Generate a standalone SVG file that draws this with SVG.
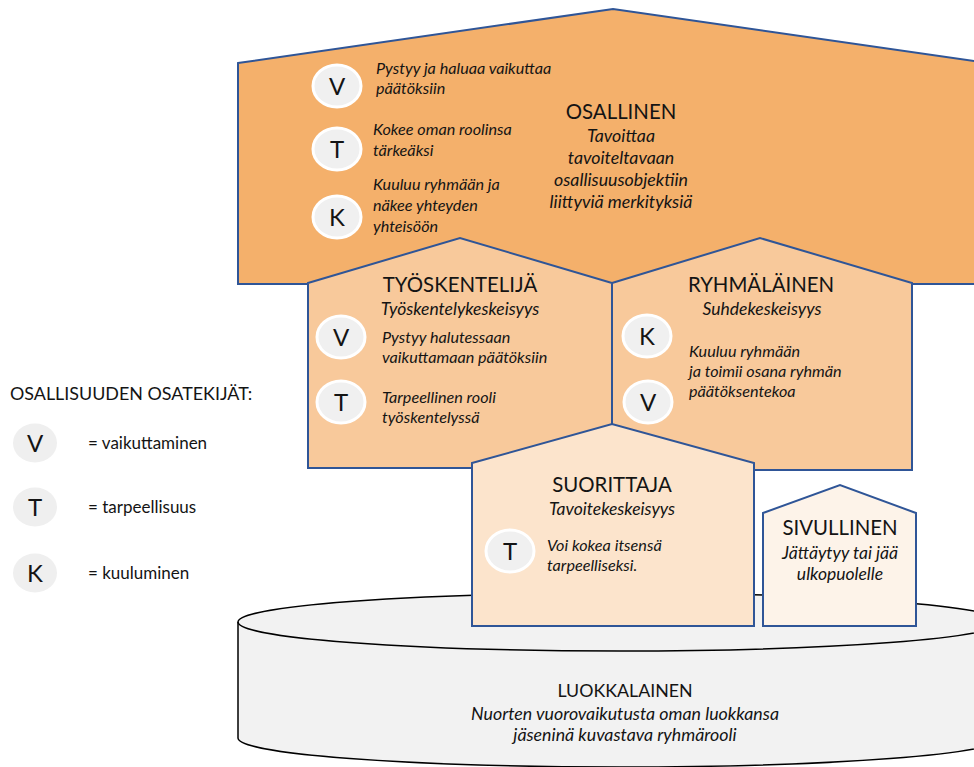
<svg xmlns="http://www.w3.org/2000/svg" width="974" height="767" viewBox="0 0 974 767">
<style>
text{font-family:Lato,"Noto Sans","DejaVu Sans",sans-serif;fill:#141414}
.h{font-size:20.4px}
.i{font-size:16.2px;font-style:italic}
.s{font-size:17.5px;font-style:italic}
.d{font-size:17.8px;font-style:italic}
.c{text-anchor:middle}
.house{stroke:#2F5597;stroke-width:2;stroke-linejoin:miter}
.dot{fill:#f0f0f0;stroke:#ffffff;stroke-width:3}
.let{font-size:24px;text-anchor:middle}
.leg{font-size:17px}
</style>
<rect width="974" height="767" fill="#ffffff"/>

<g id="osallinen">
<polygon class="house" points="238,63 613,9 988,63 988,284 238,284" fill="#F4B06B"/>
<ellipse class="dot" cx="337" cy="86" rx="24" ry="21"/><text class="let" x="337" y="95">V</text>
<ellipse class="dot" cx="337" cy="149" rx="24" ry="21"/><text class="let" x="337" y="158">T</text>
<ellipse class="dot" cx="337" cy="217" rx="24" ry="21"/><text class="let" x="337" y="226">K</text>
<text class="i" x="376" y="74">Pystyy ja haluaa vaikuttaa</text>
<text class="i" x="376" y="94">päätöksiin</text>
<text class="i" x="373" y="135">Kokee oman roolinsa</text>
<text class="i" x="373" y="156">tärkeäksi</text>
<text class="i" x="373" y="190">Kuuluu ryhmään ja</text>
<text class="i" x="373" y="211">näkee yhteyden</text>
<text class="i" x="373" y="232">yhteisöön</text>
<text class="h c" x="621" y="119">OSALLINEN</text>
<text class="d c" x="621" y="142">Tavoittaa</text>
<text class="d c" x="621" y="164">tavoiteltavaan</text>
<text class="d c" x="621" y="186">osallisuusobjektiin</text>
<text class="d c" x="621" y="208">liittyviä merkityksiä</text>
</g>

<g id="ryhmalainen">
<polygon class="house" points="612,283 760,238 912,283 912,470 612,470" fill="#F8C99B"/>
<text class="h c" x="761" y="292">RYHMÄLÄINEN</text>
<text class="s c" x="762" y="315">Suhdekeskeisyys</text>
<ellipse class="dot" cx="647" cy="336" rx="24" ry="21"/><text class="let" x="647" y="345">K</text>
<ellipse class="dot" cx="648" cy="402" rx="24" ry="21"/><text class="let" x="648" y="411">V</text>
<text class="i" x="689" y="357">Kuuluu ryhmään</text>
<text class="i" x="689" y="377">ja toimii osana ryhmän</text>
<text class="i" x="689" y="397">päätöksentekoa</text>
</g>

<g id="tyoskentelija">
<polygon class="house" points="308,283 460,238 612,283 612,468 308,468" fill="#F8C99B"/>
<text class="h c" x="460" y="292">TYÖSKENTELIJÄ</text>
<text class="s c" x="460" y="315">Työskentelykeskeisyys</text>
<ellipse class="dot" cx="341" cy="337" rx="24" ry="21"/><text class="let" x="341" y="346">V</text>
<ellipse class="dot" cx="341" cy="402" rx="24" ry="21"/><text class="let" x="341" y="411">T</text>
<text class="i" x="382" y="343">Pystyy halutessaan</text>
<text class="i" x="382" y="363">vaikuttamaan päätöksiin</text>
<text class="i" x="382" y="403">Tarpeellinen rooli</text>
<text class="i" x="382" y="423">työskentelyssä</text>
</g>

<g id="luokkalainen">
<path d="M238,622 A382,29 0 0 1 1002,622 L1002,738 A382,29 0 0 1 238,738 Z" fill="#F2F2F2" stroke="#000" stroke-width="1.5"/>
<path d="M238,622 A382,29 0 0 0 1002,622" fill="none" stroke="#000" stroke-width="1.5"/>
<text class="c" x="625" y="697" style="font-size:17.8px">LUOKKALAINEN</text>
<text class="c" x="625" y="720" style="font-size:17.8px;font-style:italic">Nuorten vuorovaikutusta oman luokkansa</text>
<text class="c" x="625" y="741" style="font-size:17.8px;font-style:italic">jäseninä kuvastava ryhmärooli</text>
</g>

<g id="suorittaja">
<polygon class="house" points="472,463 612,424 754,463 754,626 472,626" fill="#FCE4CC"/>
<text class="h c" x="612" y="492">SUORITTAJA</text>
<text class="s c" x="612" y="515">Tavoitekeskeisyys</text>
<ellipse class="dot" cx="510" cy="551" rx="24" ry="21"/><text class="let" x="510" y="560">T</text>
<text class="i" x="547" y="551">Voi kokea itsensä</text>
<text class="i" x="547" y="571">tarpeelliseksi.</text>
</g>

<g id="sivullinen">
<polygon class="house" points="763,513 840,485 916,513 916,626 763,626" fill="#FDF3E9"/>
<text class="h c" x="840" y="535">SIVULLINEN</text>
<text class="s c" x="840" y="559">Jättäytyy tai jää</text>
<text class="s c" x="840" y="580">ulkopuolelle</text>
</g>

<g id="legend">
<text x="10" y="400" style="font-size:17.9px">OSALLISUUDEN OSATEKIJÄT:</text>
<ellipse cx="35" cy="443" rx="22" ry="19.5" fill="#EFEFEF"/><text class="let" x="35" y="452">V</text>
<text class="leg" x="88" y="449">= vaikuttaminen</text>
<ellipse cx="35" cy="507" rx="22" ry="19.5" fill="#EFEFEF"/><text class="let" x="35" y="516">T</text>
<text class="leg" x="88" y="513">= tarpeellisuus</text>
<ellipse cx="35" cy="573" rx="22" ry="19.5" fill="#EFEFEF"/><text class="let" x="35" y="582">K</text>
<text class="leg" x="88" y="579">= kuuluminen</text>
</g>
</svg>
